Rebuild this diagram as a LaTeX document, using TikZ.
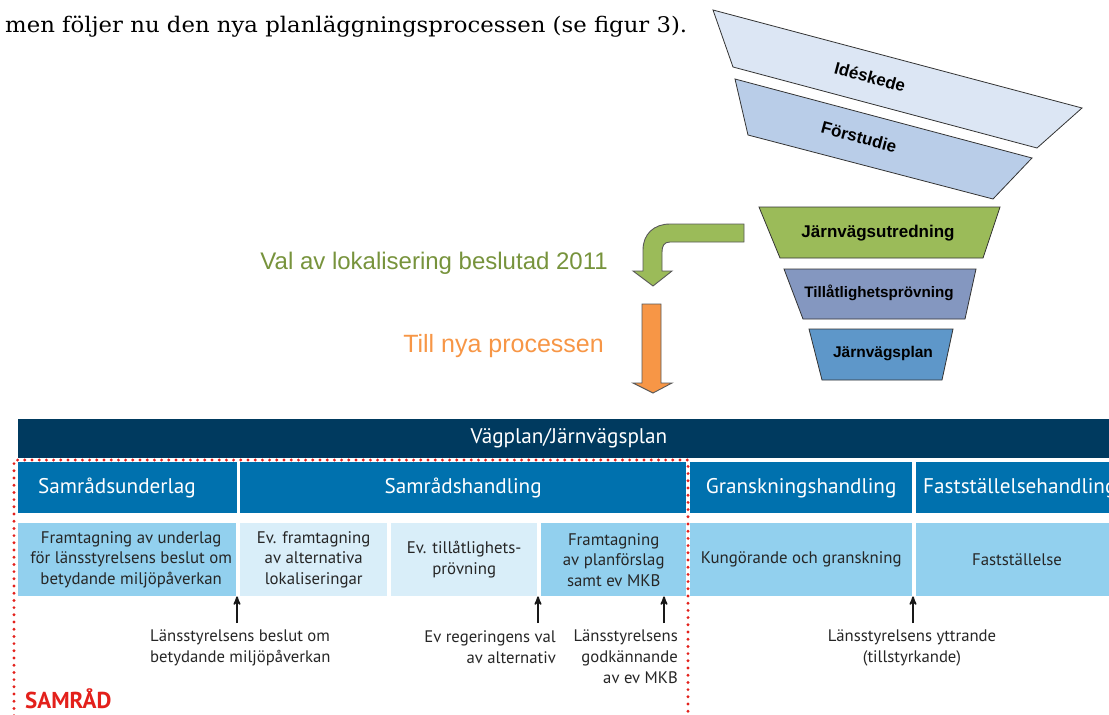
\documentclass[tikz,border=0pt]{standalone}
\usepackage{fontspec}
\setmainfont{DejaVu Serif}
\setsansfont{Liberation Sans}
\newfontfamily\tabfont{PT Sans}
\newfontfamily\introfont[FakeStretch=1.06]{DejaVu Serif}
\usepackage{tikz}
\usetikzlibrary{calc,arrows,positioning}

\definecolor{planNavy}{HTML}{003A5F}
\definecolor{planBlue}{HTML}{0071AE}
\definecolor{cellBlue}{HTML}{92D0EE}
\definecolor{cellPale}{HTML}{D9EEF9}
\definecolor{samradRed}{HTML}{E3201B}
\definecolor{ideFill}{HTML}{DCE6F4}
\definecolor{forFill}{HTML}{B9CDE8}
\definecolor{jvuFill}{HTML}{9BBB59}
\definecolor{tillFill}{HTML}{8497C0}
\definecolor{jvpFill}{HTML}{5E97C9}
\definecolor{valGreen}{HTML}{77933C}
\definecolor{nyaOrange}{HTML}{F79646}

\begin{document}
\begin{tikzpicture}[x=1pt,y=-1pt]

  % Parameters
  \def\hrow{51}
  \def\hcell{73}
  \def\ynote{623}

  % Styles
  \tikzstyle{phase}=[draw=black!80,line width=0.8pt,line join=miter]
  \tikzstyle{phasetext}=[inner sep=0pt,font=\sffamily\bfseries\fontsize{17}{19}\selectfont]
  \tikzstyle{bigarrow}=[draw=black!65,line width=0.9pt,line join=miter]
  \tikzstyle{header}=[anchor=north west,inner sep=0pt,fill=planBlue,minimum height=\hrow]
  \tikzstyle{cell}=[anchor=north west,inner sep=0pt,minimum height=\hcell]
  \tikzstyle{headtext}=[inner sep=0pt,text=white,font=\tabfont\fontsize{21.2}{23}\selectfont]
  \tikzstyle{celltext}=[inner sep=0pt,align=center,text=black!85,font=\tabfont\fontsize{16.8}{20.5}\selectfont]
  \tikzstyle{notetext}=[inner sep=0pt,text=black!85,font=\tabfont\fontsize{16.7}{21}\selectfont]
  \tikzstyle{uparrow}=[->,>=stealth',line width=1.8pt,black!90]
  \tikzstyle{samrad}=[draw=samradRed,line width=3.2pt,line cap=round,dash pattern=on 0pt off 7.2pt]

  \useasboundingbox (0,0) rectangle (1109,715);

  % Intro text
  \node[anchor=west,inner sep=0pt,font=\introfont\fontsize{21.5}{24}\selectfont] (intro) at (5,27) {men följer nu den nya planläggningsprocessen (se figur 3).};

  % Funnel
  \draw[phase,fill=ideFill] (713,10) -- (1082,108) -- (1037,148) -- (733,67) -- cycle;
  \node[phasetext,rotate=-15] (ideskede) at (870,77) {Idéskede};
  \draw[phase,fill=forFill] (735,79) -- (1032,158) -- (993,199) -- (748,135) -- cycle;
  \node[phasetext,rotate=-15] (forstudie) at (859,137) {Förstudie};
  \draw[phase,fill=jvuFill] (759,207) -- (1000,207) -- (983,258) -- (780,258) -- cycle;
  \node[phasetext] (utredning) at (878,233) {Järnvägsutredning};
  \draw[phase,fill=tillFill] (784,269) -- (976,269) -- (965,319) -- (803,319) -- cycle;
  \node[phasetext,font=\sffamily\bfseries\fontsize{15.2}{17}\selectfont] (provning) at (879,293) {Tillåtlighetsprövning};
  \draw[phase,fill=jvpFill] (809,329) -- (953,329) -- (942,380) -- (822,380) -- cycle;
  \node[phasetext,font=\sffamily\bfseries\fontsize{15.5}{17}\selectfont] (jvplan) at (883,354) {Järnvägsplan};

  % Process arrows
  \draw[bigarrow,fill=jvuFill] (744,224) -- (670,224) .. controls (654,224) and (643,234) .. (643,250)
    -- (643,271) -- (633,271) -- (653,286) -- (672,271) -- (662,271) -- (662,252)
    .. controls (662,246) and (664,242) .. (670,242) -- (744,242) -- cycle;
  \draw[bigarrow,fill=nyaOrange] (642,304) -- (661,304) -- (661,383) -- (672,383) -- (653,393) -- (633,383) -- (642,383) -- cycle;
  \node[anchor=east,inner sep=0pt,text=valGreen,font=\sffamily\fontsize{24}{26}\selectfont] (val) at (608,263) {Val av lokalisering beslutad 2011};
  \node[anchor=east,inner sep=0pt,text=nyaOrange,font=\sffamily\fontsize{25}{27}\selectfont] (nya) at (604,346) {Till nya processen};

  % ===========================================================================

  % Plan band
  \node[anchor=north west,inner sep=0pt,fill=planNavy,minimum width=1110,minimum height=39] (plan) at (18,419) {};
  \node[headtext] (plan-text) at (569,438) {Vägplan/Järnvägsplan};

  % Headers
  \foreach \id/\x/\w in {underlag/18/219,handling/240/446,gransk/690/222,faststall/916/210}
    \node[header,minimum width=\w] (head-\id) at (\x,462) {};
  \node[headtext,anchor=west] (head-underlag-text) at (38,488) {Samrådsunderlag};
  \node[headtext] (head-handling-text) at (head-handling) {Samrådshandling};
  \node[headtext] (head-gransk-text) at (head-gransk) {Granskningshandling};
  \node[headtext,anchor=west] (head-faststall-text) at (923,488) {Fastställelsehandling};

  % Cells
  \foreach \id/\x/\w/\col in {1/18/218/cellBlue,2/240/147/cellPale,3/391/146/cellPale,4/541/145/cellBlue,5/690/222/cellBlue,6/916/210/cellBlue}
    \node[cell,fill=\col,minimum width=\w] (cell-\id) at (\x,523) {};
  \node[celltext] (cell-1-text) at ($(cell-1)+(4,0)$) {Framtagning av underlag\\för länsstyrelsens beslut om\\betydande miljöpåverkan};
  \node[celltext] (cell-2-text) at (cell-2) {Ev. framtagning\\av alternativa\\lokaliseringar};
  \node[celltext] (cell-3-text) at (cell-3) {Ev. tillåtlighets-\\prövning};
  \node[celltext] (cell-4-text) at (cell-4) {Framtagning\\av planförslag\\samt ev MKB};
  \node[celltext] (cell-5-text) at (cell-5) {Kungörande och granskning};
  \node[celltext] (cell-6-text) at (1017,560) {Fastställelse};

  % Samråd frame
  \draw[samrad] (14,730) -- (14,460) -- (688,460) -- (688,730);
  \node[inner sep=0pt,anchor=west,text=samradRed,font=\tabfont\bfseries\fontsize{23}{25}\selectfont] (samrad-text) at (25,699) {SAMRÅD};

  % Decisions
  \node[notetext,anchor=north west,align=left] (note-1) at (150,630) {Länsstyrelsens beslut om\\betydande miljöpåverkan};
  \node[notetext,anchor=north east,align=right] (note-2) at (556,630) {Ev regeringens val\\av alternativ};
  \node[notetext,anchor=north east,align=right] (note-3) at (678,630) {Länsstyrelsens\\godkännande\\av ev MKB};
  \node[notetext,anchor=north,align=center] (note-4) at (912,630) {Länsstyrelsens yttrande\\(tillstyrkande)};

  \coordinate (tail-1) at (237,\ynote);
  \coordinate (tail-2) at (538,\ynote);
  \coordinate (tail-3) at (664,\ynote);
  \coordinate (tail-4) at (913,\ynote);
  \draw[uparrow] (tail-1) -- (tail-1 |- cell-1.south);
  \draw[uparrow] (tail-2) -- (tail-2 |- cell-3.south);
  \draw[uparrow] (tail-3) -- (tail-3 |- cell-4.south);
  \draw[uparrow] (tail-4) -- (tail-4 |- cell-5.south);

\end{tikzpicture}
\end{document}
